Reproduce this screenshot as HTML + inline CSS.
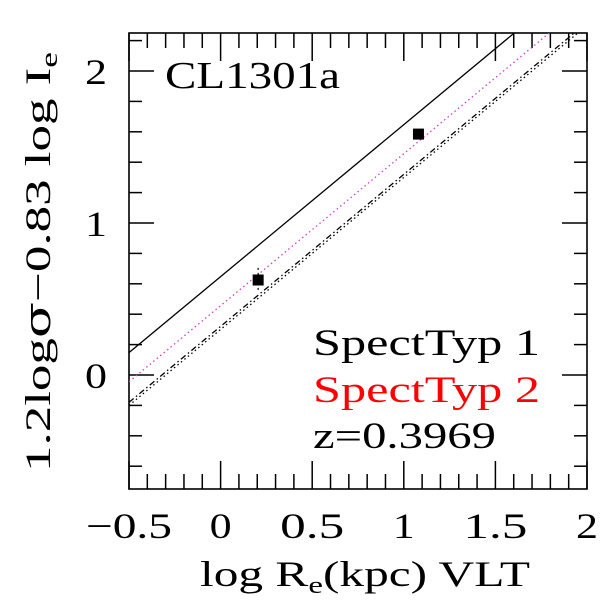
<!DOCTYPE html>
<html><head><meta charset="utf-8"><style>
body{margin:0;background:#fff}
svg{display:block}
text{font-family:"Liberation Serif",serif}
</style></head><body>
<svg id="chart" width="600" height="600" xmlns="http://www.w3.org/2000/svg">
<text x="165" y="88" font-size="38" textLength="175" lengthAdjust="spacingAndGlyphs">CL1301a</text>
<text x="313" y="355" font-size="37" fill="#000" textLength="227" lengthAdjust="spacingAndGlyphs">SpectTyp 1</text>
<text x="313" y="402" font-size="37" fill="#ff0000" textLength="227" lengthAdjust="spacingAndGlyphs">SpectTyp 2</text>
<text x="313" y="448" font-size="37" fill="#000" textLength="183" lengthAdjust="spacingAndGlyphs">z=0.3969</text>
<text x="200" y="586" font-size="36" textLength="330" lengthAdjust="spacingAndGlyphs">log R<tspan font-size="24" dy="7">e</tspan><tspan dy="-7">(kpc) VLT</tspan></text>
<text transform="translate(50,472) rotate(-90)" font-size="36" textLength="420" lengthAdjust="spacingAndGlyphs">1.2log<tspan font-family="DejaVu Serif">σ</tspan>−0.83 log I<tspan font-size="24" dy="7">e</tspan></text>
</svg>
<script>
const xTicks=[-0.5,0,0.5,1,1.5,2];
const xTickLabels=["−0.5","0","0.5","1","1.5","2"];
const yTicks=[0,1,2];
const yTickLabels=["0","1","2"];
const lineOffsets=[0.647,0.456,0.30,0.32];
const lineSlopes=[1,1,1,1];
const pointsX=[0.205,1.08];
const pointsY=[0.625,1.585];
const pointsErr=[0.08,0.02];
const L=129,R=587,T=33,B=489,X0=-0.5,X1=2,Y0=-0.75,Y1=2.25;
const sx=v=>L+(v-X0)/(X1-X0)*(R-L);
const sy=v=>B-(v-Y0)/(Y1-Y0)*(B-T);
const svg=document.getElementById('chart');
const NS='http://www.w3.org/2000/svg';
function mk(tag,at){const e=document.createElementNS(NS,tag);for(const k in at)e.setAttribute(k,at[k]);svg.appendChild(e);return e;}
const defs=mk('defs',{});const cp=document.createElementNS(NS,'clipPath');cp.setAttribute('id','pc');
const cr=document.createElementNS(NS,'rect');cr.setAttribute('x',L);cr.setAttribute('y',T);cr.setAttribute('width',R-L);cr.setAttribute('height',B-T);cp.appendChild(cr);defs.appendChild(cp);
const frame=mk('rect',{x:L,y:T,width:R-L,height:B-T,fill:'none',stroke:'#000','stroke-width':1.6});


for(let i=0;i<=25;i++){const v=X0+i*0.1;const major=Math.abs(v*2-Math.round(v*2))<1e-6;const len=major?28:15;
 const a=mk('line',{x1:sx(v),x2:sx(v),y1:B,y2:B-len,stroke:'#000','stroke-width':1.5});
 const b=mk('line',{x1:sx(v),x2:sx(v),y1:T,y2:T+len,stroke:'#000','stroke-width':1.5});}
for(let i=-3;i<=11;i++){const v=i*0.2;const major=(i%5===0);const len=major?25:13;
 const a=mk('line',{x1:L,x2:L+len,y1:sy(v),y2:sy(v),stroke:'#000','stroke-width':1.5});
 const b=mk('line',{x1:R,x2:R-len,y1:sy(v),y2:sy(v),stroke:'#000','stroke-width':1.5});}
const xLens=[86,22,64,22,64,22];
xTicks.forEach((v,i)=>{const t=mk('text',{x:sx(v),y:538,'font-size':36,'text-anchor':'middle',textLength:xLens[i],lengthAdjust:'spacingAndGlyphs'});t.textContent=xTickLabels[i];
 });
yTicks.forEach((v,i)=>{const t=mk('text',{x:107,y:sy(v)+13,'font-size':36,'text-anchor':'end',textLength:22,lengthAdjust:'spacingAndGlyphs'});t.textContent=yTickLabels[i];
 });
const styles=[{stroke:'#000',dash:''},{stroke:'#d040d0',dash:'1.5 3'},{stroke:'#000',dash:'1.5 3'},{stroke:'#000',dash:'6 3 1.5 3'}];
const names=['fit-line-solid','fit-line-magenta-dotted','fit-line-dotted','fit-line-dashdot'];
lineOffsets.forEach((c,i)=>{const m=lineSlopes[i];
 const l=mk('line',{x1:sx(X0),y1:sy(m*X0+c),x2:sx(X1),y2:sy(m*X1+c),stroke:styles[i].stroke,'stroke-width':1.3,'stroke-dasharray':styles[i].dash,'clip-path':'url(#pc)'});
 });
pointsX.forEach((x,i)=>{
 const e=mk('line',{x1:sx(x),x2:sx(x),y1:sy(pointsY[i]+pointsErr[i]),y2:sy(pointsY[i]-pointsErr[i]),stroke:'#000','stroke-width':1.2,'stroke-dasharray':'2 3'});
 
 const p=mk('rect',{x:sx(x)-5.5,y:sy(pointsY[i])-5.5,width:11,height:11,fill:'#000'});
 });
</script>
</body></html>
